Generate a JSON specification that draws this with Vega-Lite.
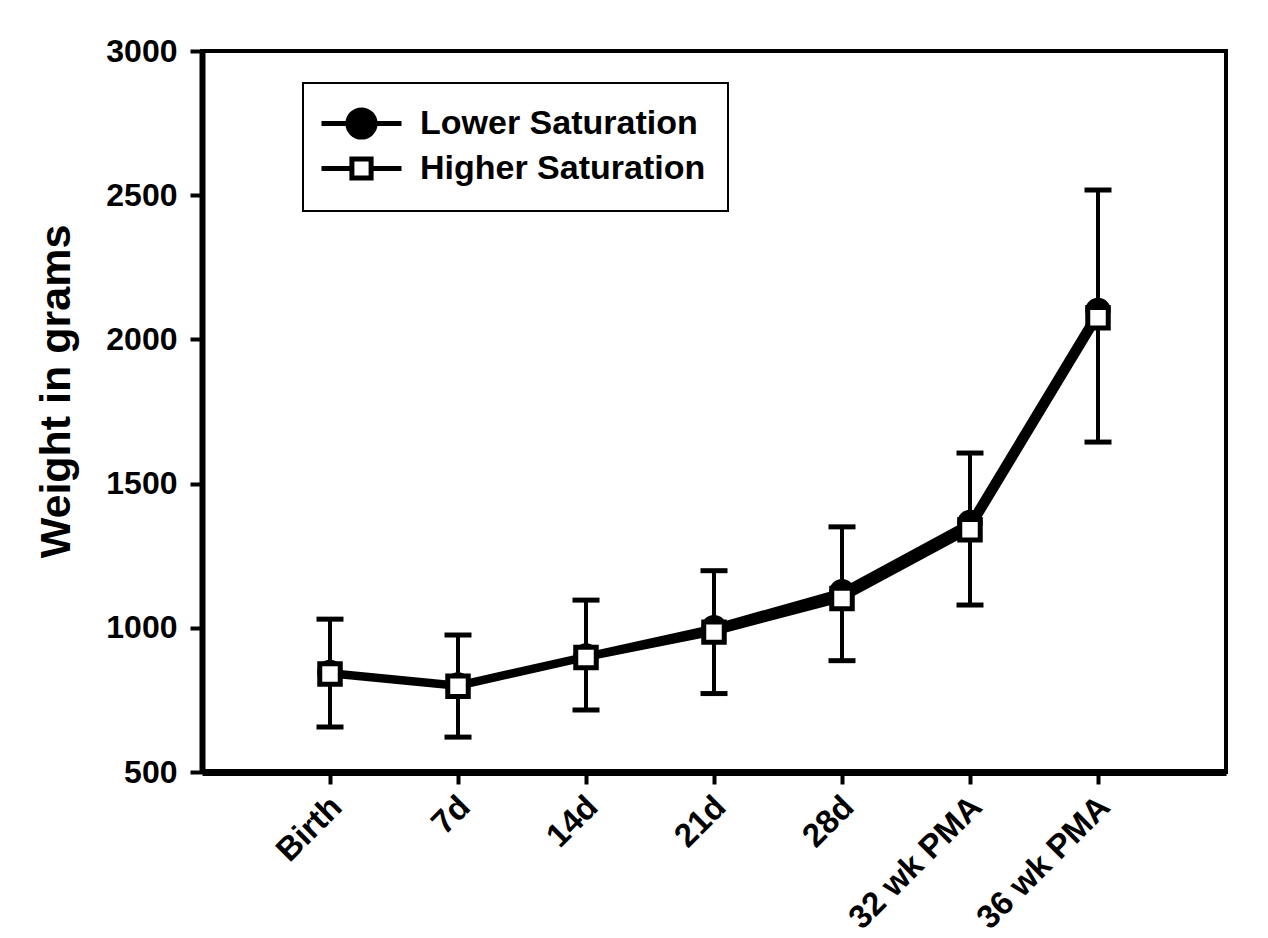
{
  "$schema": "https://vega.github.io/schema/vega-lite/v6.json",
  "width": 1024,
  "height": 721,
  "autosize": {"type": "none"},
  "padding": {"left": 202, "top": 51, "right": 42, "bottom": 166},
  "background": "white",
  "config": {
    "font": "Liberation Sans",
    "view": {"stroke": "black", "strokeWidth": 4},
    "legend": {"strokeWidth": 2},
    "axis": {
      "grid": false,
      "domainColor": "black",
      "tickColor": "black",
      "labelColor": "black",
      "titleColor": "black",
      "labelFont": "Liberation Sans",
      "labelFontWeight": "bold",
      "titleFont": "Liberation Sans",
      "titleFontWeight": "bold"
    }
  },
  "datasets": {
    "means": [
      {"time": "Birth", "series": "Lower Saturation", "weight": 845},
      {"time": "7d", "series": "Lower Saturation", "weight": 802},
      {"time": "14d", "series": "Lower Saturation", "weight": 902},
      {"time": "21d", "series": "Lower Saturation", "weight": 1000},
      {"time": "28d", "series": "Lower Saturation", "weight": 1125},
      {"time": "32 wk PMA", "series": "Lower Saturation", "weight": 1365},
      {"time": "36 wk PMA", "series": "Lower Saturation", "weight": 2100},
      {"time": "Birth", "series": "Higher Saturation", "weight": 840},
      {"time": "7d", "series": "Higher Saturation", "weight": 797},
      {"time": "14d", "series": "Higher Saturation", "weight": 897},
      {"time": "21d", "series": "Higher Saturation", "weight": 985},
      {"time": "28d", "series": "Higher Saturation", "weight": 1102},
      {"time": "32 wk PMA", "series": "Higher Saturation", "weight": 1340},
      {"time": "36 wk PMA", "series": "Higher Saturation", "weight": 2075}
    ],
    "errors": [
      {"time": "Birth", "lo": 656, "hi": 1030},
      {"time": "7d", "lo": 621, "hi": 975},
      {"time": "14d", "lo": 715, "hi": 1096},
      {"time": "21d", "lo": 772, "hi": 1198},
      {"time": "28d", "lo": 886, "hi": 1350},
      {"time": "32 wk PMA", "lo": 1079, "hi": 1606},
      {"time": "36 wk PMA", "lo": 1644, "hi": 2518}
    ]
  },
  "encoding": {
    "x": {
      "field": "time",
      "type": "nominal",
      "title": null,
      "scale": {"type": "point", "padding": 1, "domain": ["Birth", "7d", "14d", "21d", "28d", "32 wk PMA", "36 wk PMA"]},
      "axis": {
        "labelAngle": -45,
        "labelFontSize": 33,
        "tickSize": 12,
        "tickWidth": 4,
        "domainWidth": 7,
        "labelPadding": 6,
        "labelOffset": -5
      }
    }
  },
  "layer": [
    {
      "data": {"name": "errors"},
      "mark": {"type": "rule", "color": "black", "strokeWidth": 4},
      "encoding": {
        "y": {
          "field": "lo",
          "type": "quantitative",
          "title": "Weight in grams",
          "scale": {"domain": [500, 3000], "nice": false, "zero": false},
          "axis": {
            "values": [500, 1000, 1500, 2000, 2500, 3000],
            "format": "d",
            "labelFontSize": 32,
            "tickSize": 12,
            "tickWidth": 4,
            "domainWidth": 6,
            "labelPadding": 13,
            "titleFontSize": 43,
            "titleAngle": -90,
            "titleAlign": "center",
            "titleBaseline": "alphabetic",
            "titleX": -133,
            "titleY": 340
          }
        },
        "y2": {"field": "hi"}
      }
    },
    {
      "data": {"name": "errors"},
      "mark": {"type": "tick", "color": "black", "size": 27, "thickness": 5, "opacity": 1},
      "encoding": {"y": {"field": "lo", "type": "quantitative", "title": "Weight in grams"}}
    },
    {
      "data": {"name": "errors"},
      "mark": {"type": "tick", "color": "black", "size": 27, "thickness": 5, "opacity": 1},
      "encoding": {"y": {"field": "hi", "type": "quantitative", "title": "Weight in grams"}}
    },
    {
      "data": {"name": "means"},
      "transform": [{"filter": "datum.series === 'Lower Saturation'"}],
      "mark": {"type": "line", "color": "black", "strokeWidth": 7},
      "encoding": {"y": {"field": "weight", "type": "quantitative", "title": "Weight in grams"}}
    },
    {
      "data": {"name": "means"},
      "transform": [{"filter": "datum.series === 'Higher Saturation'"}],
      "mark": {"type": "line", "color": "black", "strokeWidth": 7},
      "encoding": {"y": {"field": "weight", "type": "quantitative", "title": "Weight in grams"}}
    },
    {
      "data": {"name": "means"},
      "transform": [{"filter": "datum.series === 'Lower Saturation'"}],
      "mark": {"type": "point", "shape": "circle", "filled": true, "color": "black", "size": 650, "opacity": 1},
      "encoding": {"y": {"field": "weight", "type": "quantitative", "title": "Weight in grams"}}
    },
    {
      "data": {"name": "means"},
      "transform": [{"filter": "datum.series === 'Higher Saturation'"}],
      "mark": {"type": "point", "shape": "square", "filled": true, "fill": "white", "stroke": "black", "strokeWidth": 5, "size": 420, "opacity": 1},
      "encoding": {"y": {"field": "weight", "type": "quantitative", "title": "Weight in grams"}}
    },
    {
      "data": {"name": "means"},
      "mark": {"type": "point", "filled": true, "opacity": 0},
      "encoding": {
        "y": {"field": "weight", "type": "quantitative", "title": "Weight in grams"},
        "shape": {
          "field": "series",
          "type": "nominal",
          "scale": {
            "domain": ["Lower Saturation", "Higher Saturation"],
            "range": [
              "M-2.5,0H2.5M0.85,0C0.85,0.469,0.469,0.85,0,0.85C-0.469,0.85,-0.85,0.469,-0.85,0C-0.85,-0.469,-0.469,-0.85,0,-0.85C0.469,-0.85,0.85,-0.469,0.85,0Z",
              "M-2.5,0H-0.6M0.6,0H2.5M-0.6,-0.6H0.6V0.6H-0.6Z"
            ]
          },
          "legend": {
            "title": null,
            "orient": "none",
            "legendX": 101,
            "legendY": 32,
            "symbolSize": 1024,
            "symbolStrokeWidth": 5,
            "symbolOpacity": 1,
            "symbolOffset": 18,
            "labelOffset": 40,
            "labelLimit": 500,
            "labelFont": "Liberation Sans",
            "labelFontSize": 34,
            "labelFontWeight": "bold",
            "labelColor": "black",
            "strokeColor": "black",
            "fillColor": "white",
            "padding": 22,
            "rowPadding": 0
          }
        },
        "fill": {
          "field": "series",
          "type": "nominal",
          "scale": {"domain": ["Lower Saturation", "Higher Saturation"], "range": ["black", "white"]},
          "legend": {
            "title": null,
            "orient": "none",
            "legendX": 101,
            "legendY": 32,
            "symbolSize": 1024,
            "symbolStrokeWidth": 5,
            "symbolOpacity": 1,
            "symbolOffset": 18,
            "labelOffset": 40,
            "labelLimit": 500,
            "labelFont": "Liberation Sans",
            "labelFontSize": 34,
            "labelFontWeight": "bold",
            "labelColor": "black",
            "strokeColor": "black",
            "fillColor": "white",
            "padding": 22,
            "rowPadding": 0
          }
        },
        "stroke": {
          "field": "series",
          "type": "nominal",
          "scale": {"domain": ["Lower Saturation", "Higher Saturation"], "range": ["black", "black"]},
          "legend": {
            "title": null,
            "orient": "none",
            "legendX": 101,
            "legendY": 32,
            "symbolSize": 1024,
            "symbolStrokeWidth": 5,
            "symbolOpacity": 1,
            "symbolOffset": 18,
            "labelOffset": 40,
            "labelLimit": 500,
            "labelFont": "Liberation Sans",
            "labelFontSize": 34,
            "labelFontWeight": "bold",
            "labelColor": "black",
            "strokeColor": "black",
            "fillColor": "white",
            "padding": 22,
            "rowPadding": 0
          }
        }
      }
    }
  ]
}
